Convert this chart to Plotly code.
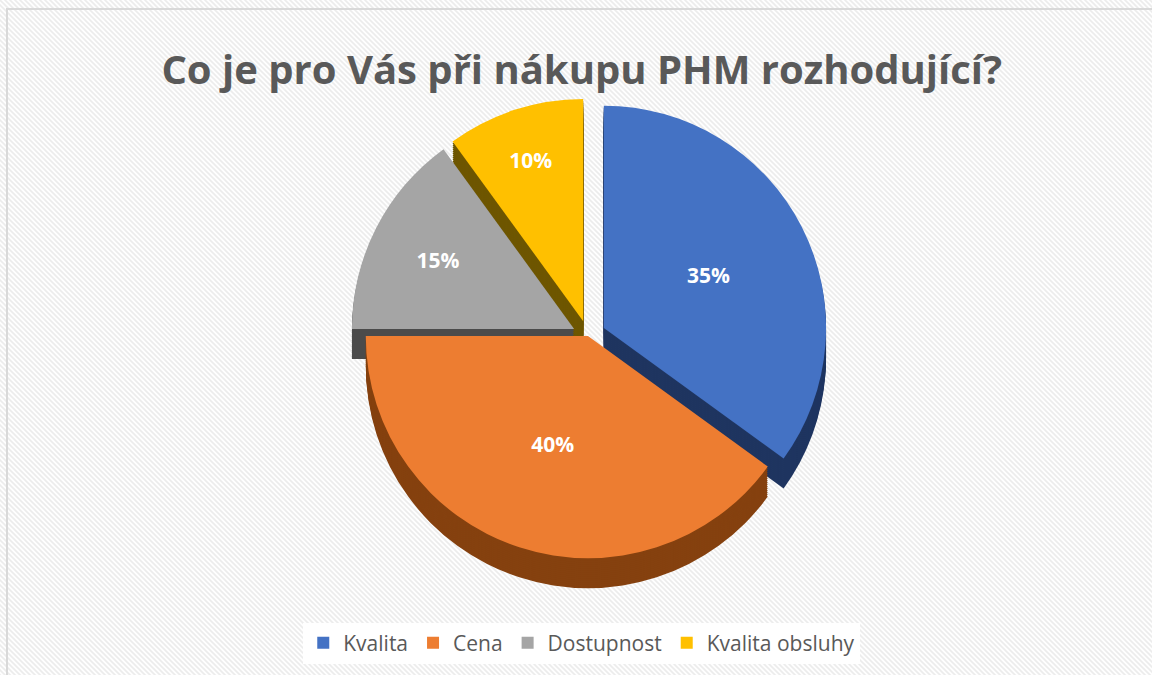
import base64
import plotly.graph_objects as go

labels = ["Kvalita", "Cena", "Dostupnost", "Kvalita obsluhy"]
values = [35, 40, 15, 10]
top_colors = ["#4472C4", "#ED7D31", "#A5A5A5", "#FFC000"]
side_colors = ["#1F3560", "#85410F", "#4B4B4B", "#6E5600"]
pulls = [0.08, 0.0, 0.07, 0.07]

W, H = 1152, 675
cx, cy_top = 588, 336          # centre of the top surface (px from top)
r_dom = 240                    # half-size of the pie domain in px
depth_px = 30
layers = 15

def dom(cx, cy):
    return dict(x=[(cx - r_dom) / W, (cx + r_dom) / W],
                y=[(H - cy - r_dom) / H, (H - cy + r_dom) / H])

fig = go.Figure()

# side walls (stacked darker copies)
for i in range(layers, 0, -1):
    off = depth_px * i / layers
    fig.add_trace(go.Pie(
        labels=labels, values=values, sort=False, direction="clockwise",
        rotation=0, pull=pulls, domain=dom(cx, cy_top + off),
        marker=dict(colors=side_colors, line=dict(width=0)),
        textinfo="none", hoverinfo="skip", showlegend=False,
    ))

# top surface
fig.add_trace(go.Pie(
    labels=labels, values=values, sort=False, direction="clockwise",
    rotation=0, pull=pulls, domain=dom(cx, cy_top),
    marker=dict(colors=top_colors, line=dict(width=0)),
    textinfo="percent", textposition="inside", insidetextorientation="horizontal",
    textfont=dict(family="Open Sans", size=21, color="white", weight="bold"),
    hoverinfo="label+percent", showlegend=True,
))

# striped background
svg = (f'<svg xmlns="http://www.w3.org/2000/svg" width="{W}" height="{H}">'
       '<defs><pattern id="p" patternUnits="userSpaceOnUse" width="5" height="5">'
       '<rect width="5" height="5" fill="#FFFFFF"/>'
       '<path d="M-1,-1 L6,6 M-1,4 L1,6 M4,-1 L6,1" stroke="#ECECEC" stroke-width="1.6"/>'
       '</pattern></defs>'
       f'<rect width="{W}" height="{H}" fill="url(#p)"/></svg>')
src = "data:image/svg+xml;base64," + base64.b64encode(svg.encode()).decode()

fig.update_layout(
    width=W, height=H,
    margin=dict(l=0, r=0, t=0, b=0),
    paper_bgcolor="white",
    title=dict(text="<b>Co je pro Vás při nákupu PHM rozhodující?</b>",
               x=0.505, xanchor="center", y=1 - 70 / H, yanchor="middle",
               font=dict(family="Open Sans", size=40, color="#595959")),
    legend=dict(orientation="h", x=0.505, xanchor="center", y=32 / H, yanchor="middle",
                bgcolor="white", font=dict(family="Open Sans", size=21, color="#595959"),
                itemsizing="constant", itemwidth=30, traceorder="normal"),
    images=[dict(source=src, xref="paper", yref="paper", x=0, y=1, sizex=1, sizey=1,
                 xanchor="left", yanchor="top", sizing="stretch", layer="below")],
    shapes=[dict(type="rect", xref="paper", yref="paper",
                 x0=7 / W, x1=1.05, y0=-0.05, y1=1 - 9 / H,
                 line=dict(color="#D9D9D9", width=2), fillcolor="rgba(0,0,0,0)", layer="below")],
)

fig.write_html("out.html")
